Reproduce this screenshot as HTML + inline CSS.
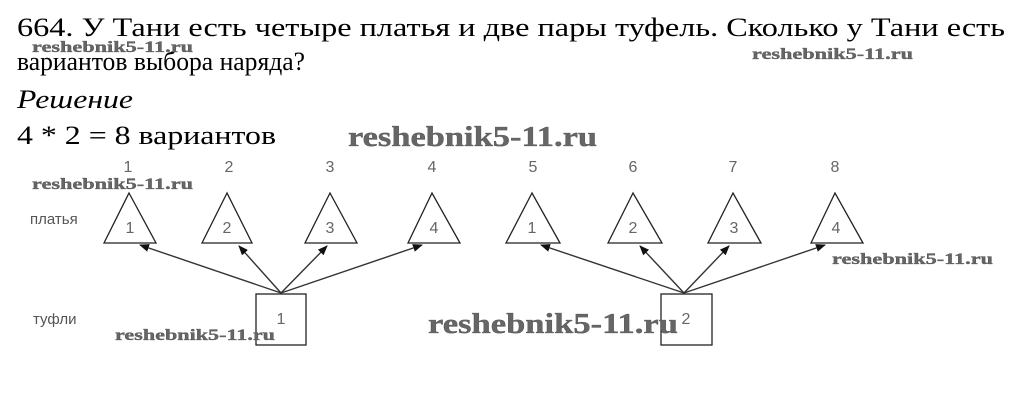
<!DOCTYPE html>
<html><head><meta charset="utf-8"><style>
html,body{margin:0;padding:0;background:#fff;width:1016px;height:408px;overflow:hidden}
svg{display:block}
.t{font-family:"Liberation Serif","DejaVu Serif",serif;font-size:26px;fill:#000}
.w{font-family:"Liberation Serif","DejaVu Serif",serif;font-weight:bold;fill:#666;stroke:#444;stroke-width:0.3}
.s{font-family:"Liberation Sans",sans-serif;fill:#555;font-size:15px}
.n{font-family:"Liberation Sans",sans-serif;fill:#666;font-size:16px;text-anchor:middle}
</style></head><body>
<svg width="1016" height="408" viewBox="0 0 1016 408">
<defs><marker id="a" markerWidth="10" markerHeight="8" refX="9" refY="4" orient="auto" markerUnits="userSpaceOnUse"><path d="M0,0 L10,4 L0,8 Z" fill="#111"/></marker></defs>
<text class="t" x="17" y="36" textLength="988" lengthAdjust="spacingAndGlyphs">664. У Тани есть четыре платья и две пары туфель. Сколько у Тани есть</text>
<text class="t" x="17" y="70" textLength="288" lengthAdjust="spacingAndGlyphs">вариантов выбора наряда?</text>
<text class="t" x="17" y="108" font-style="italic" textLength="116" lengthAdjust="spacingAndGlyphs">Решение</text>
<text class="t" x="17" y="144" textLength="259" lengthAdjust="spacingAndGlyphs">4 * 2 = 8 вариантов</text>
<text class="w" x="32" y="52" font-size="16" textLength="161" lengthAdjust="spacingAndGlyphs">reshebnik5-11.ru</text>
<text class="w" x="752" y="59" font-size="16" textLength="161" lengthAdjust="spacingAndGlyphs">reshebnik5-11.ru</text>
<text class="w" x="348" y="146" font-size="28" textLength="249" lengthAdjust="spacingAndGlyphs">reshebnik5-11.ru</text>
<text class="w" x="32" y="189" font-size="16" textLength="161" lengthAdjust="spacingAndGlyphs">reshebnik5-11.ru</text>
<text class="s" x="30" y="224">платья</text>
<text class="s" x="33" y="324">туфли</text>
<g fill="none" stroke="#222" stroke-width="1.3">
<path d="M129,193 L104,243 L156,243 Z"/>
<path d="M227,193 L202,243 L252,243 Z"/>
<path d="M330,193 L305,243 L357,243 Z"/>
<path d="M432,193 L408,243 L460,243 Z"/>
<path d="M532,193 L506,243 L560,243 Z"/>
<path d="M633,193 L608,243 L662,243 Z"/>
<path d="M733,193 L708,243 L761,243 Z"/>
<path d="M835,193 L811,243 L863,243 Z"/>
<rect x="256" y="294" width="50" height="51"/>
<rect x="661" y="294" width="51" height="51"/>
</g>
<g stroke="#333" stroke-width="1.4" marker-end="url(#a)">
<line x1="281" y1="293" x2="140" y2="245"/>
<line x1="281" y1="293" x2="239" y2="246"/>
<line x1="281" y1="293" x2="327" y2="246"/>
<line x1="281" y1="293" x2="422" y2="245"/>
<line x1="684" y1="293" x2="541" y2="245"/>
<line x1="684" y1="293" x2="640" y2="246"/>
<line x1="684" y1="293" x2="729" y2="246"/>
<line x1="684" y1="293" x2="825" y2="245"/>
</g>
<g class="n">
<text x="128" y="172">1</text><text x="229" y="172">2</text><text x="330" y="172">3</text><text x="432" y="172">4</text>
<text x="533" y="172">5</text><text x="633" y="172">6</text><text x="733" y="172">7</text><text x="835" y="172">8</text>
<text x="130" y="233">1</text><text x="227" y="233">2</text><text x="330" y="233">3</text><text x="434" y="233">4</text>
<text x="532" y="233">1</text><text x="633" y="233">2</text><text x="734" y="233">3</text><text x="836" y="233">4</text>
<text x="281" y="324">1</text><text x="686" y="324">2</text>
</g>
<text class="w" x="832" y="264" font-size="16" textLength="161" lengthAdjust="spacingAndGlyphs">reshebnik5-11.ru</text>
<text class="w" x="115" y="340" font-size="16" textLength="160" lengthAdjust="spacingAndGlyphs">reshebnik5-11.ru</text>
<text class="w" x="428" y="333" font-size="28" textLength="250" lengthAdjust="spacingAndGlyphs">reshebnik5-11.ru</text>
</svg>
</body></html>
